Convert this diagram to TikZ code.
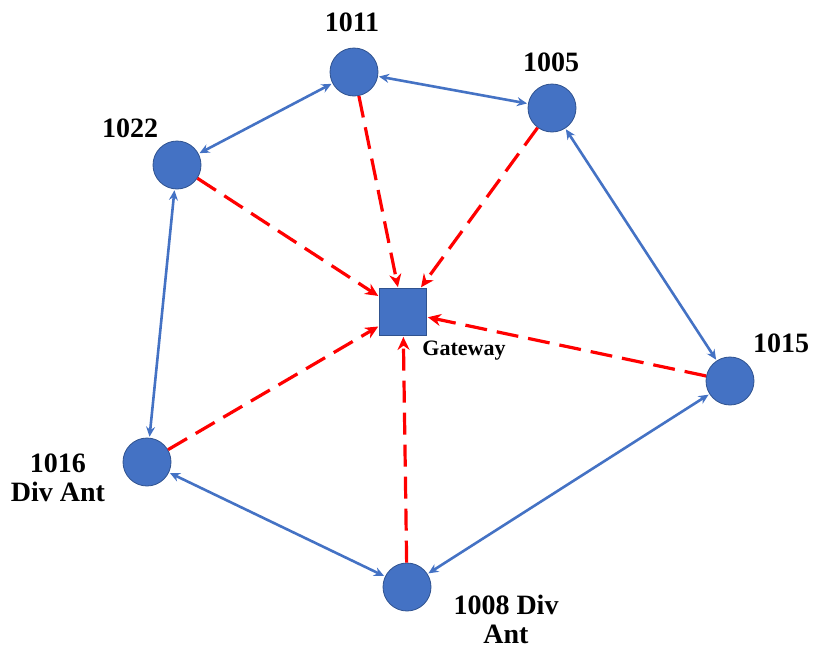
\documentclass[tikz,border=0pt]{standalone}
\usepackage{fontspec}
\setmainfont{Liberation Serif}
\usetikzlibrary{arrows.meta}
\definecolor{nodeblue}{HTML}{4472C4}
\definecolor{nodeedge}{HTML}{2F528F}
\begin{document}
\begin{tikzpicture}[x=1pt,y=-1pt,
  sensor/.style={circle, fill=nodeblue, draw=nodeedge, line width=0.8pt, minimum size=48pt, inner sep=0pt},
  gw/.style={rectangle, fill=nodeblue, draw=nodeedge, line width=0.8pt, minimum size=47pt, inner sep=0pt},
  lbl/.style={font=\fontsize{28}{29}\selectfont\bfseries, align=center, inner sep=0pt},
  link/.style={nodeblue, line width=2.6pt, {Stealth[length=10pt,width=9pt]}-{Stealth[length=10pt,width=9pt]}, shorten <=1pt, shorten >=1pt},
  toGw/.style={red, line width=3.2pt, dash pattern=on 22pt off 10pt, -{Stealth[length=13pt,width=12pt]}, shorten >=1pt}
]
\useasboundingbox (0,0) rectangle (815,651);
\node[sensor] (n1011) at (354,72) {};
\node[sensor] (n1005) at (552,108) {};
\node[sensor] (n1022) at (177,165) {};
\node[gw] (gw) at (403,312) {};
\node[sensor] (n1015) at (730,381) {};
\node[sensor] (n1016) at (147,462) {};
\node[sensor] (n1008) at (407,587) {};

\node[lbl] (l1011) at (352,22) {1011};
\node[lbl] (l1005) at (551,62) {1005};
\node[lbl] (l1022) at (130,128) {1022};
\node[lbl] (l1015) at (781,343) {1015};
\node[lbl] (l1016) at (58,478) {1016\\Div Ant};
\node[lbl] (l1008) at (506,619) {1008 Div\\Ant};
\node[font=\fontsize{22}{23}\selectfont\bfseries, inner sep=0pt] (lgw) at (464,351) {Gateway};

\draw[link] (n1011) -- (n1005);
\draw[link] (n1011) -- (n1022);
\draw[link] (n1022) -- (n1016);
\draw[link] (n1016) -- (n1008);
\draw[link] (n1008) -- (n1015);
\draw[link] (n1015) -- (n1005);

\draw[toGw] (n1011) -- (gw);
\draw[toGw] (n1005) -- (gw);
\draw[toGw] (n1022) -- (gw);
\draw[toGw] (n1016) -- (gw);
\draw[toGw] (n1008) -- (gw);
\draw[toGw] (n1015) -- (gw);
\end{tikzpicture}
\end{document}
